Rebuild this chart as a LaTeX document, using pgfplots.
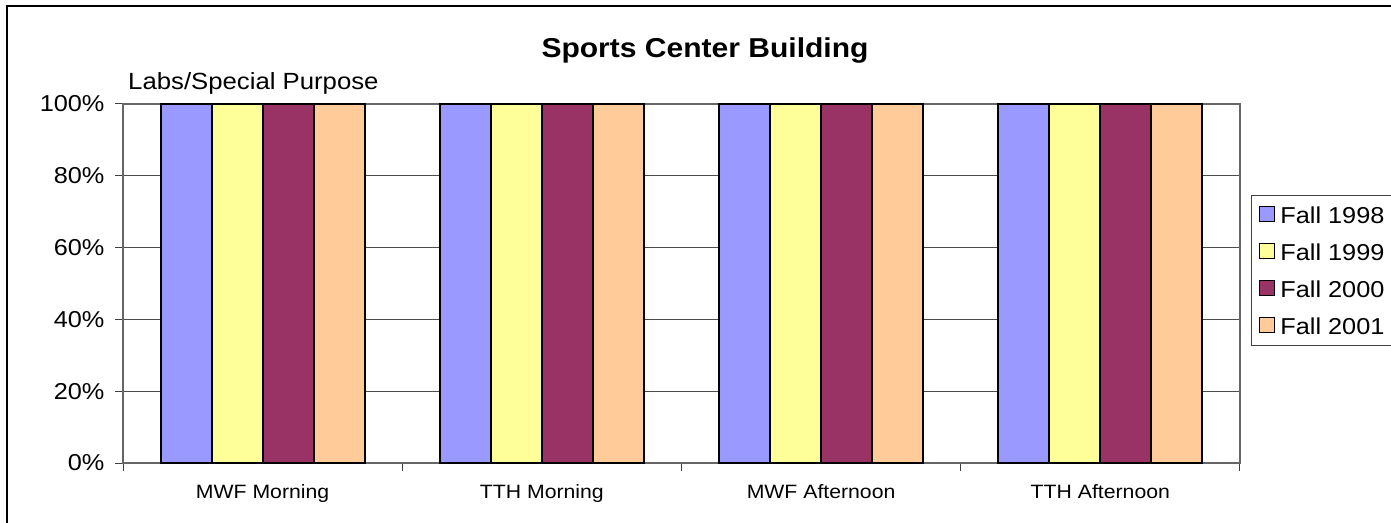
\documentclass[border=0pt]{standalone}
\usepackage{fontspec}
\setmainfont{Liberation Sans}[FakeStretch=1.1]
\usepackage{pgfplots}
\pgfplotsset{compat=1.18}
\definecolor{c98}{HTML}{9999FF}
\definecolor{c99}{HTML}{FFFF99}
\definecolor{c00}{HTML}{993366}
\definecolor{c01}{HTML}{FFCC99}
\begin{document}
\begin{tikzpicture}[x=1pt,y=1pt]
\useasboundingbox (0,0) rectangle (1391,522);
\fill[white] (0,0) rectangle (1391,522);
\draw[black, line width=1.5pt] (7,-5) -- (7,516) -- (1400,516);
\node[anchor=base, font=\fontsize{27.3}{30}\selectfont\bfseries, inner sep=0pt] at (705,464) {Sports Center Building};
\node[anchor=base west, font=\fontsize{23.4}{26}\selectfont, inner sep=0pt] at (128,432) {Labs/Special Purpose};
\begin{axis}[
  at={(123pt,59pt)}, anchor=south west,
  scale only axis, width=1117pt, height=359pt,
  /pgf/number format/assume math mode=true,
  ybar=0pt, bar width=51pt,
  xmin=-0.5, xmax=3.5, ymin=0, ymax=100,
  xtick={-0.5,0.5,1.5,2.5,3.5},
  x tick label as interval,
  xticklabels={MWF Morning, TTH Morning, MWF Afternoon, TTH Afternoon},
  ytick={0,20,40,60,80,100},
  yticklabels={0\%,20\%,40\%,60\%,80\%,100\%},
  tick align=outside, xtick pos=left, ytick pos=left,
  major tick length=8pt,
  tick style={black!75, line width=1pt},
  ymajorgrids, grid style={black!70, line width=1pt},
  axis line style={black!60, line width=1.2pt},
  yticklabel style={font=\fontsize{23}{26}\selectfont, xshift=-7pt},
  xticklabel style={font=\fontsize{19.3}{22}\selectfont, yshift=-10pt},
  clip=false,
  legend style={at={(axis description cs:1.00985,0.7465)}, anchor=north west,
    draw=black!75, line width=1.2pt, font=\fontsize{23}{26}\selectfont,
    row sep=18pt, column sep=5pt, inner xsep=7pt, inner ysep=10pt,
    nodes={inner sep=0pt}, cells={anchor=west}},
  legend image code/.code={\draw[#1, line width=1.8pt] (0pt,-6pt) rectangle (15pt,9pt);},
]
\addplot[fill=c98, draw=black, line width=2pt] coordinates {(0,100) (1,100) (2,100) (3,100)};
\addplot[fill=c99, draw=black, line width=2pt] coordinates {(0,100) (1,100) (2,100) (3,100)};
\addplot[fill=c00, draw=black, line width=2pt] coordinates {(0,100) (1,100) (2,100) (3,100)};
\addplot[fill=c01, draw=black, line width=2pt] coordinates {(0,100) (1,100) (2,100) (3,100)};
\legend{Fall 1998, Fall 1999, Fall 2000, Fall 2001}
\end{axis}
\end{tikzpicture}
\end{document}
